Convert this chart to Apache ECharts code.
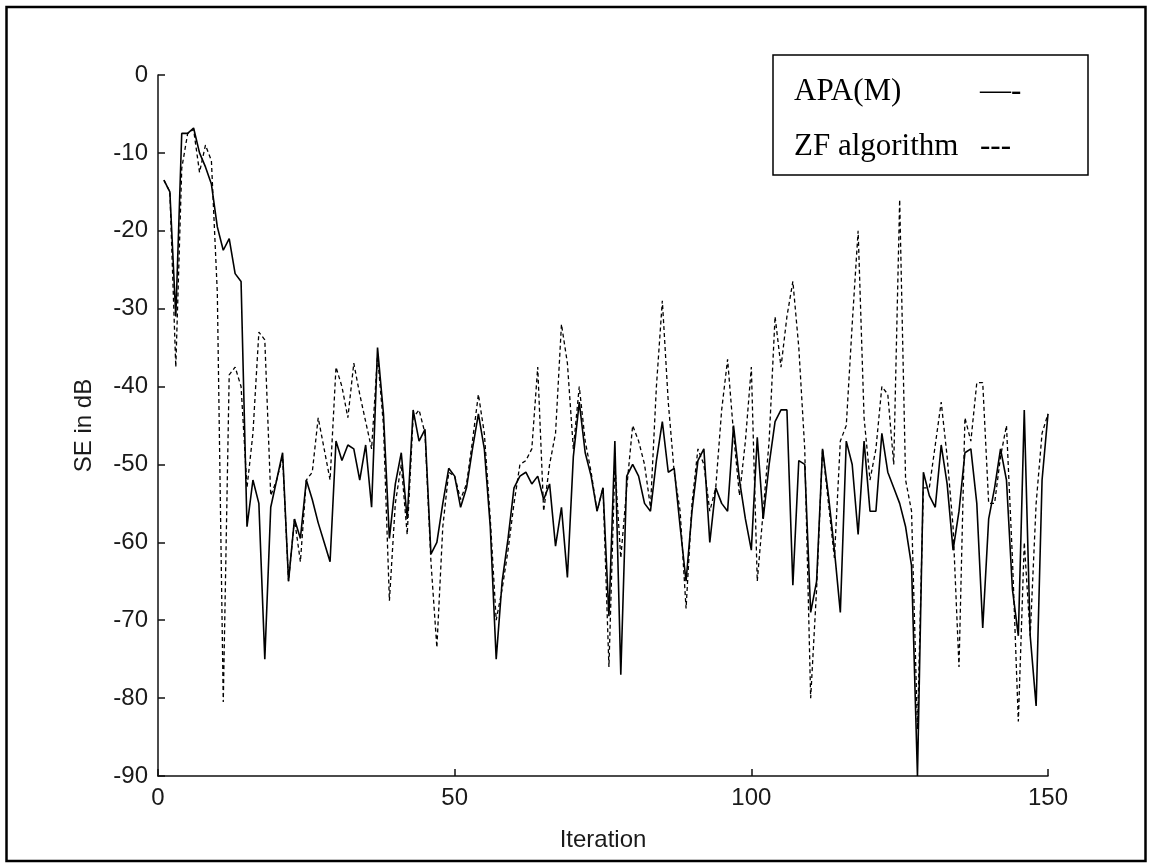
<!DOCTYPE html>
<html>
<head>
<meta charset="utf-8">
<script src="https://cdn.jsdelivr.net/npm/echarts@6/dist/echarts.min.js"></script>
<style>
html, body { margin: 0; padding: 0; background: #fff; }
#chart { width: 1151px; height: 864px; }
</style>
</head>
<body>
<div id="chart"></div>
<script>
// SE (dB) per iteration
var apaValues = [
    -13.5, -15, -31, -7.5, -7.5, -6.8, -10, -11.8, -14, -19.5,
    -22.5, -21, -25.5, -26.5, -58, -52, -55, -75, -55.5, -52,
    -48.5, -65, -57, -59.5, -52, -54.5, -57.5, -60, -62.5, -47,
    -49.5, -47.5, -48, -52, -47.5, -55.5, -35, -43.5, -59.5, -52.5,
    -48.5, -57, -43, -47, -45.5, -61.5, -60, -55, -50.5, -51.5,
    -55.5, -53, -48, -43.5, -48, -58, -75, -65, -59.5, -53,
    -51.5, -51, -52.5, -51.5, -54.5, -52.5, -60.5, -55.5, -64.5, -49,
    -42, -48.5, -51.5, -56, -53, -69.5, -47, -77, -51.5, -50,
    -51.5, -55, -56, -49.5, -44.5, -51, -50.5, -58, -65, -56,
    -49.5, -48, -60, -53, -55, -56, -45, -52, -57, -61,
    -46.5, -57, -50, -44.5, -43, -43, -65.5, -49.5, -50, -69,
    -65, -48, -54, -61, -69, -47, -50, -59, -47, -56,
    -56, -46, -51, -53, -55, -58, -63, -90, -51, -54,
    -55.5, -47.5, -52.5, -61, -56, -48.5, -48, -55, -71, -57,
    -53, -48, -52, -66, -72, -43, -72, -81, -52, -43.5
];
var zfValues = [
    -13.5, -15, -37.5, -12, -7.5, -7, -12.5, -9, -11, -28,
    -80.5, -38.5, -37.5, -40, -53, -46, -33, -34, -54, -52,
    -49, -65, -57, -62.5, -52, -51, -44, -48, -52, -37.5,
    -40, -44, -37, -41, -44.5, -48, -36, -45, -67.5, -55,
    -50, -59, -44, -43, -46, -62.5, -73.5, -58, -51, -51.5,
    -54.5, -52.5, -47, -41, -46, -57, -70, -66, -61, -55,
    -50, -49.5, -48, -37.5, -56, -50, -46, -32, -37, -48,
    -40, -47, -51, -56, -53, -76, -50, -62, -53, -45,
    -47, -50, -55.5, -40, -29, -42, -51, -56, -68.5, -55,
    -48, -50, -56, -53, -43, -36.5, -46, -54, -47, -37.5,
    -65, -56, -47, -31, -37.5, -31, -26.5, -35, -48, -80,
    -66, -48, -55, -62, -47, -45, -32, -20, -44, -52,
    -48, -40, -41, -50, -16, -52, -56, -84, -53, -53,
    -47.5, -42, -49, -58, -76, -44, -47, -39.5, -39.5, -55,
    -55, -49, -45, -62, -83, -60, -72, -55, -46, -43.5
];
var xTicks = [0, 50, 100, 150];
var yTicks = [0, -10, -20, -30, -40, -50, -60, -70, -80, -90];
var legendNames = ['APA(M)', 'ZF algorithm'];

// iteration number = position in the list + 1
function toPairs(values) {
    return values.map(function (v, i) {
        return [i + 1, v];
    });
}

var chart = echarts.init(document.getElementById('chart'), null, { renderer: 'canvas' });
var labelFont = 'Liberation Sans, Arial, sans-serif';
var serifFont = 'Liberation Serif, Times New Roman, serif';

chart.setOption({
    backgroundColor: '#fff',
    animation: false,
    grid: {
        left: 158,
        right: 103,
        top: 75,
        bottom: 88
    },
    xAxis: {
        type: 'value',
        min: xTicks[0],
        max: xTicks[xTicks.length - 1],
        interval: 50,
        name: 'Iteration',
        nameLocation: 'middle',
        nameGap: 52,
        nameTextStyle: { fontFamily: labelFont, fontSize: 24, color: '#1a1a1a' },
        axisLine: { onZero: false, lineStyle: { color: '#111', width: 1.5 } },
        axisTick: { inside: true, length: 7, lineStyle: { color: '#111', width: 1.5 } },
        axisLabel: { margin: 10, fontFamily: labelFont, fontSize: 24, color: '#1a1a1a' },
        splitLine: { show: false }
    },
    yAxis: {
        type: 'value',
        min: yTicks[yTicks.length - 1],
        max: yTicks[0],
        interval: 10,
        name: 'SE in dB',
        nameLocation: 'middle',
        nameGap: 62,
        nameTextStyle: { fontFamily: labelFont, fontSize: 24, color: '#1a1a1a' },
        axisLine: { show: true, onZero: false, lineStyle: { color: '#111', width: 1.5 } },
        axisTick: { show: true, inside: true, length: 7, lineStyle: { color: '#111', width: 1.5 } },
        axisLabel: { margin: 10, fontFamily: labelFont, fontSize: 24, color: '#1a1a1a' },
        splitLine: { show: false }
    },
    series: [
        {
            name: legendNames[0],
            type: 'line',
            data: toPairs(apaValues),
            showSymbol: false,
            symbol: 'none',
            lineStyle: { color: '#000', width: 1.6 },
            z: 3
        },
        {
            name: legendNames[1],
            type: 'line',
            data: toPairs(zfValues),
            showSymbol: false,
            symbol: 'none',
            lineStyle: { color: '#000', width: 1.3, type: [4, 3] },
            z: 2
        }
    ],
    graphic: [
        // outer frame
        {
            type: 'rect',
            shape: { x: 6.5, y: 7, width: 1139, height: 854 },
            style: { fill: null, stroke: '#000', lineWidth: 2.5 }
        },
        // legend text box
        {
            type: 'rect',
            shape: { x: 773, y: 55, width: 315, height: 120 },
            style: { fill: '#fff', stroke: '#000', lineWidth: 1.5 },
            z: 10
        },
        {
            type: 'text',
            x: 794, y: 92,
            style: { text: legendNames[0], font: '31px ' + serifFont, fill: '#000', verticalAlign: 'middle' },
            z: 11
        },
        {
            type: 'text',
            x: 980, y: 92,
            style: { text: '\u2014-', font: '31px ' + serifFont, fill: '#000', verticalAlign: 'middle' },
            z: 11
        },
        {
            type: 'text',
            x: 794, y: 147,
            style: { text: legendNames[1], font: '31px ' + serifFont, fill: '#000', verticalAlign: 'middle' },
            z: 11
        },
        {
            type: 'text',
            x: 980, y: 147,
            style: { text: '---', font: '31px ' + serifFont, fill: '#000', verticalAlign: 'middle' },
            z: 11
        }
    ]
});
</script>
</body>
</html>
